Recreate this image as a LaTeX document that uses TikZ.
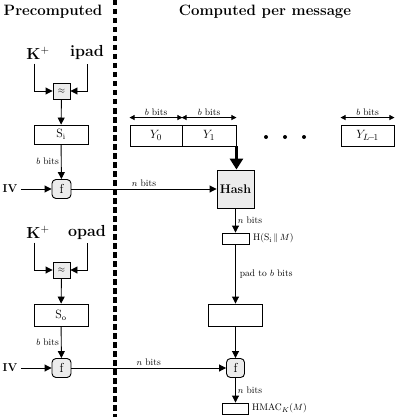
\documentclass[tikz,border=0pt]{standalone}
\usetikzlibrary{arrows.meta}
\begin{document}
\begin{tikzpicture}[x=1pt,y=1pt,
  title/.style={font=\fontsize{15}{17}\selectfont\bfseries},
  keylbl/.style={font=\fontsize{16}{18}\selectfont\bfseries, inner sep=1pt},
  small/.style={font=\fontsize{9.5}{11}\selectfont, inner sep=1pt},
  blk/.style={draw, line width=0.9pt, minimum width=#1, inner sep=0pt},
  xorbox/.style={draw, line width=0.9pt, fill=gray!15, minimum width=17pt, minimum height=16pt, inner sep=0pt, font=\small},
  fbox/.style={draw, line width=0.9pt, fill=gray!15, rounded corners=4pt, minimum width=19pt, minimum height=19pt, inner sep=0pt, font=\fontsize{13}{14}\selectfont},
  arr/.style={line width=0.9pt, -{Triangle[length=7pt,width=7pt]}},
  barr/.style={line width=0.8pt, {Triangle[length=5pt,width=5pt]}-{Triangle[length=5pt,width=5pt]}},
  thickarr/.style={line width=3pt, -{Triangle[length=11pt,width=13pt]}},
  ln/.style={line width=0.9pt}]
\useasboundingbox (0,0) rectangle (403,-417);
\fill[white] (0,0) rectangle (403,-417);

% titles
\node[title] (t1) at (53,-12) {Precomputed};
\node[title] (t2) at (265,-12) {Computed per message};
\draw[line width=4pt, dash pattern=on 5.5pt off 3.5pt] (114.5,0) -- (114.5,-417);

% upper precomputed
\node[keylbl] (k1) at (38,-53) {K$^{+}$};
\node[keylbl] (ip) at (87,-53) {ipad};
\node[xorbox] (x1) at (61.5,-91) {$\approx$};
\node[blk=54pt, minimum height=19pt, font=\fontsize{12}{13}\selectfont] (si) at (61,-134.5) {S$_{\mathrm{i}}$};
\node[fbox] (f1) at (61.5,-189) {f};
\node[font=\fontsize{11.5}{12}\selectfont\bfseries] (iv1) at (10,-189) {IV};
\draw[arr] ([xshift=-4pt,yshift=-3pt]k1.south) |- (x1.west);
\draw[arr] ([yshift=-3pt]ip.south) |- (x1.east);
\draw[arr] (x1) -- (si);
\draw[arr] (si) -- (f1) node[small, pos=0.5, left=1pt] (bb1) {$b$ bits};
\draw[arr] (iv1) -- (f1);

% message blocks
\node[blk=52pt, minimum height=21pt, font=\fontsize{13}{14}\selectfont] (y0) at (156,-135.5) {$Y_0$};
\node[blk=54pt, minimum height=21pt, font=\fontsize{13}{14}\selectfont] (y1) at (209,-135.5) {$Y_1$};
\node[blk=53pt, minimum height=21pt, font=\fontsize{13}{14}\selectfont] (yl) at (367.5,-135.5) {$Y_{L\!-\!1}$};
\foreach \i/\xx in {1/266,2/285,3/304} \fill (\xx,-137) circle (2pt);
\draw[barr] ([yshift=7pt]y0.north west) -- ([yshift=7pt]y0.north east) node[small, midway, above=1pt] (by0) {$b$ bits};
\draw[barr] ([yshift=7pt]y1.north west) -- ([yshift=7pt]y1.north east) node[small, midway, above=1pt] (by1) {$b$ bits};
\draw[barr] ([yshift=7pt]yl.north west) -- ([yshift=7pt]yl.north east) node[small, midway, above=1pt] (byl) {$b$ bits};

% hash
\node[draw, line width=0.9pt, fill=gray!15, minimum width=37pt, minimum height=38pt, inner sep=0pt, font=\fontsize{12.5}{14}\selectfont\bfseries] (hash) at (235.5,-189) {Hash};
\draw[thickarr] (y1.south east) -- (y1.south east |- hash.north);
\draw[arr] (f1) -- (hash) node[small, midway, above=1pt] (nb1) {$n$ bits};

\node[blk=27pt, minimum height=11pt] (hb) at (235.5,-238.5) {};
\node[small, anchor=west] (hl) at (252,-238.5) {H(S$_{\mathrm{i}}$\,$\|$\,$M$)};
\draw[arr] (hash) -- (hb) node[small, midway, right=1pt] (nb2) {$n$ bits};

\node[blk=54pt, minimum height=22pt] (pb) at (235.5,-315) {};
\draw[arr] (hb) -- (pb) node[small, midway, right=3pt] (pl) {pad to $b$ bits};

\node[fbox, minimum width=18pt] (f2) at (235.5,-368) {f};
\draw[arr] (pb) -- (f2);

\node[blk=26pt, minimum height=11pt] (hm) at (235.5,-408.5) {};
\node[small, anchor=west] (hml) at (251,-408.5) {HMAC$_{K}$($M$)};
\draw[arr] (f2) -- (hm) node[small, midway, right=1pt] (nb3) {$n$ bits};

% lower precomputed
\node[keylbl] (k2) at (38,-232) {K$^{+}$};
\node[keylbl] (op) at (87,-232) {opad};
\node[xorbox] (x2) at (61.5,-270) {$\approx$};
\node[blk=54pt, minimum height=22pt, font=\fontsize{12}{13}\selectfont] (so) at (61,-315) {S$_{\mathrm{o}}$};
\node[fbox] (f3) at (61.5,-368) {f};
\node[font=\fontsize{11.5}{12}\selectfont\bfseries] (iv2) at (10,-368) {IV};
\draw[arr] ([xshift=-4pt,yshift=-3pt]k2.south) |- (x2.west);
\draw[arr] ([yshift=-3pt]op.south) |- (x2.east);
\draw[arr] (x2) -- (so);
\draw[arr] (so) -- (f3) node[small, pos=0.5, left=1pt] (bb2) {$b$ bits};
\draw[arr] (iv2) -- (f3);
\draw[arr] (f3) -- (f2) node[small, midway, above=1pt] (nb4) {$n$ bits};
\end{tikzpicture}
\end{document}
